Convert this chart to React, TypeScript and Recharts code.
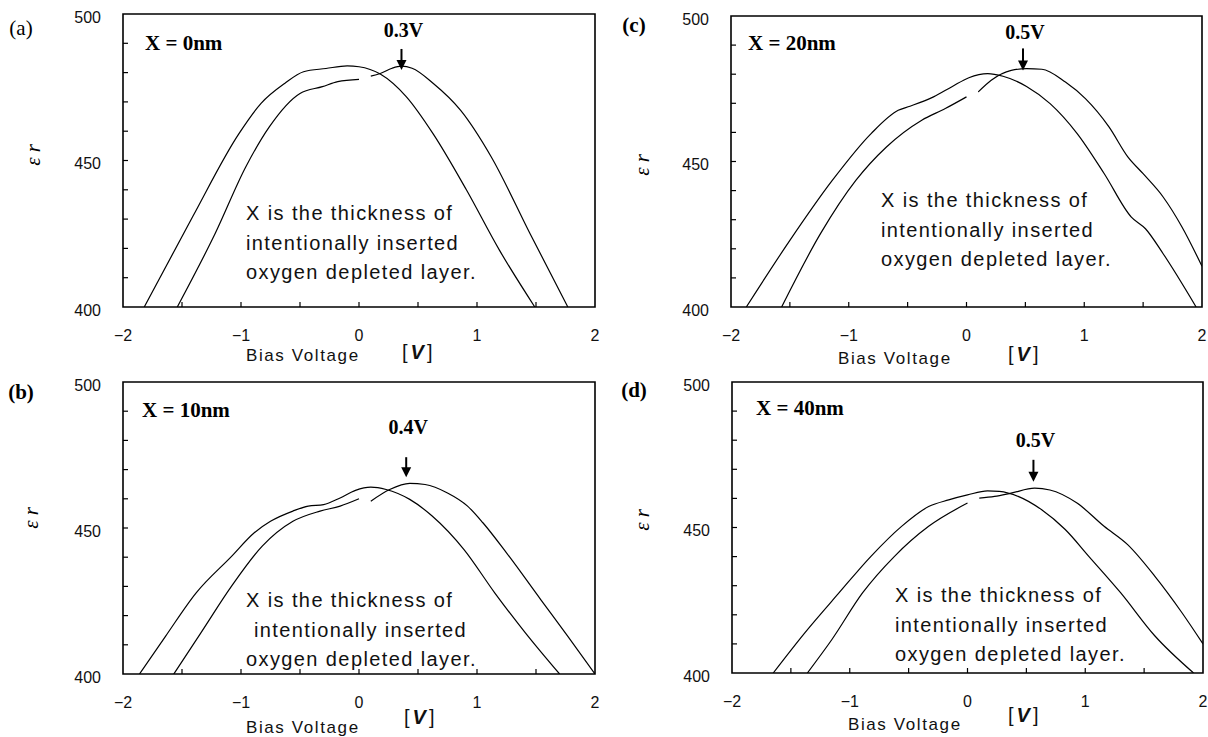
import React from 'react';
import { LineChart, Line, XAxis, YAxis, ReferenceArea, ReferenceDot } from 'recharts';

type Pt = [number, number];

const xTicks = [-2, -1.5, -1, -0.5, 0, 0.5, 1, 1.5, 2];
const yTicks = [400, 410, 420, 430, 440, 450, 460, 470, 480, 490, 500];

// (a) X = 0nm
const aLeftPeak: Pt[] = [
    [-1.82, 400], [-1.41, 430.8], [-1.02, 459], [-0.83, 469.5], [-0.63, 476.3], [-0.47, 480.3],
    [-0.28, 481.4], [-0.1, 482.3], [0, 482], [0.18, 479.5], [0.4, 471.8], [0.63, 459],
    [0.91, 440], [1.19, 419.4], [1.49, 400],
];
const aRightPeakNeg: Pt[] = [
    [-1.54, 400], [-1.22, 425], [-0.96, 447.8], [-0.76, 461.5], [-0.5, 472.9], [-0.31, 475.2],
    [-0.18, 476.9], [0, 477.7],
];
const aRightPeakPos: Pt[] = [
    [0.1, 478.8], [0.18, 479.7], [0.28, 481.5], [0.36, 482.2], [0.45, 481.5], [0.63, 476.3],
    [0.86, 467.2], [1.12, 451.3], [1.45, 425], [1.77, 400],
];

// (b) X = 10nm
const bLeftPeak: Pt[] = [
    [-1.86, 400], [-1.64, 412.9], [-1.38, 427.8], [-1.08, 440.3], [-0.89, 448.3], [-0.75, 452.3],
    [-0.56, 455.8], [-0.43, 457.5], [-0.3, 458], [-0.16, 460.3], [-0.03, 462.9], [0.1, 464],
    [0.23, 463.2], [0.43, 459.8], [0.62, 454.1], [0.89, 442.6], [1.15, 427.8], [1.41, 414.1],
    [1.7, 400],
];
const bRightPeakNeg: Pt[] = [
    [-1.57, 400], [-1.34, 414.1], [-1.08, 430.1], [-0.82, 443.8], [-0.56, 452.3], [-0.33, 455.8],
    [-0.16, 457.5], [0, 460],
];
const bRightPeakPos: Pt[] = [
    [0.1, 459.2], [0.26, 463.2], [0.43, 465.3], [0.56, 464.9], [0.75, 462], [0.92, 457.5],
    [1.05, 451.8], [1.25, 441.5], [1.54, 425.5], [1.77, 412.9], [2, 400],
];

// (c) X = 20nm
const cLeftPeak: Pt[] = [
    [-1.87, 400], [-1.5, 422.9], [-1.14, 443.5], [-0.81, 459.6], [-0.58, 467.6], [-0.48, 469],
    [-0.28, 472.2], [-0.12, 475.8], [0.02, 478.8], [0.18, 480.2], [0.31, 479.3], [0.51, 475.8],
    [0.71, 469.9], [0.94, 459.6], [1.17, 445.8], [1.4, 430.9], [1.52, 426.9], [1.67, 418.3],
    [1.95, 400],
];
const cRightPeakNeg: Pt[] = [
    [-1.57, 400], [-1.24, 425.2], [-0.94, 443.5], [-0.68, 455], [-0.38, 464.2], [-0.18, 468.2],
    [0, 472.2],
];
const cRightPeakPos: Pt[] = [
    [0.1, 473.9], [0.21, 477.9], [0.38, 481.3], [0.51, 481.9], [0.64, 481.7], [0.84, 477.3],
    [1.01, 471.6], [1.21, 461.9], [1.37, 451.6], [1.5, 445.8], [1.67, 437.8], [1.83, 427.5],
    [2, 414],
];

// (d) X = 40nm
const dLeftPeak: Pt[] = [
    [-1.65, 400], [-1.38, 413.9], [-1.09, 427.6], [-0.82, 440.1], [-0.56, 450.4], [-0.33, 457.2],
    [-0.16, 459.5], [0, 461.2], [0.17, 462.6], [0.27, 462.4], [0.43, 460.7], [0.63, 456.1],
    [0.83, 449.3], [1.03, 440.1], [1.3, 427.6], [1.59, 412.8], [1.92, 400],
];
const dRightPeakNeg: Pt[] = [
    [-1.36, 400], [-1.15, 411.6], [-0.89, 427.6], [-0.62, 440.1], [-0.33, 450.4], [0, 458.4],
];
const dRightPeakPos: Pt[] = [
    [0.1, 460.1], [0.23, 460.7], [0.37, 461.8], [0.57, 463.5], [0.7, 462.9], [0.93, 458.4],
    [1.16, 450.4], [1.36, 444.1], [1.59, 433.3], [1.82, 420.8], [2, 410],
];

// peak markers: bias where the arrow points, and the permittivity at the arrow tip
const peakLabels = ['0.3V', '0.4V', '0.5V', '0.5V'];
const peakBias = [0.36, 0.4, 0.48, 0.56];
const peakTip = [480.9, 467.4, 481.3, 465.7];

const thicknessLabels = ['X = 0nm', 'X = 10nm', 'X = 20nm', 'X = 40nm'];
const noteLines = ['X is the thickness of', 'intentionally inserted', 'oxygen depleted layer.'];

const W = 604;
const H = 368;
const Y_AXIS_W = 60;
const X_AXIS_H = 50;

const SANS = '"Liberation Sans", Arial, sans-serif';
const SERIF = '"Liberation Serif", "Times New Roman", serif';

const toRows = (pts: Pt[]) => pts.map(([v, er]) => ({ v, er }));
const fmt = (v: number) => (v < 0 ? `\u2212${Math.abs(v)}` : `${v}`);

interface PanelProps {
    left: number;
    top: number;
    plot: { l: number; t: number; r: number; b: number };
    letter: string;
    letterBold: boolean;
    letterAt: [number, number];
    epsAt: [number, number];
    biasAt: [number, number];
    unitAt: [number, number];
    curves: Pt[][];
    idx: number;
    labelAt: [number, number];
    noteAt: [number, number];
    noteIndent: number[];
    peakGap: number;
    arrowLen: number;
}

const Panel: React.FC<PanelProps> = (p) => {
    const { plot } = p;

    const xTick = (props: any) => {
        const { x, payload } = props;
        const v = payload.value as number;
        return (
            <g>
                {Number.isInteger(v) && (
                    <text x={x} y={plot.b + 28} textAnchor="middle" dominantBaseline="central"
                        fontFamily={SANS} fontSize={16} fill="#111">
                        {fmt(v)}
                    </text>
                )}
            </g>
        );
    };

    const yTick = (props: any) => {
        const { y, payload } = props;
        const v = payload.value as number;
        return (
            <g>
                {v % 50 === 0 && (
                    <text x={plot.l - 22} y={y + 3} textAnchor="end" dominantBaseline="central"
                        fontFamily={SANS} fontSize={16} fill="#111">
                        {v}
                    </text>
                )}
            </g>
        );
    };

    // inward tick marks drawn at data positions, so they sit on top of the frame
    const xMark = (props: any) => {
        const { cx } = props;
        return <line x1={cx} x2={cx} y1={plot.b} y2={plot.b - 5} stroke="#000" strokeWidth={1.2} />;
    };
    const yMark = (props: any) => {
        const { cy } = props;
        return <line x1={plot.l} x2={plot.l + 5} y1={cy} y2={cy} stroke="#000" strokeWidth={1.2} />;
    };

    const arrow = (props: any) => {
        const { cx, cy } = props;
        return (
            <g>
                <line x1={cx} x2={cx} y1={cy - p.arrowLen} y2={cy - 8} stroke="#000" strokeWidth={2} />
                <path d={`M${cx - 5},${cy - 10} L${cx + 5},${cy - 10} L${cx},${cy} Z`} fill="#000" />
                <text x={cx + 2} y={cy - p.peakGap} textAnchor="middle" dominantBaseline="central"
                    fontFamily={SERIF} fontWeight="bold" fontSize={20} fill="#000">
                    {peakLabels[p.idx]}
                </text>
            </g>
        );
    };

    return (
        <div style={{ position: 'absolute', left: p.left, top: p.top, width: W, height: H }}>
            <LineChart
                width={W}
                height={H}
                margin={{ top: plot.t, right: W - plot.r, bottom: H - plot.b - X_AXIS_H, left: plot.l - Y_AXIS_W }}
            >
                <XAxis
                    type="number"
                    dataKey="v"
                    domain={[-2, 2]}
                    ticks={xTicks}
                    interval={0}
                    allowDataOverflow
                    axisLine={false}
                    tickLine={false}
                    tick={xTick}
                    height={X_AXIS_H}
                />
                <YAxis
                    type="number"
                    domain={[400, 500]}
                    ticks={yTicks}
                    interval={0}
                    allowDataOverflow
                    axisLine={false}
                    tickLine={false}
                    tick={yTick}
                    width={Y_AXIS_W}
                />
                <ReferenceArea x1={-2} x2={2} y1={400} y2={500} fill="none" stroke="#000" strokeWidth={1.6} />
                {xTicks.slice(1, -1).map((t) => (
                    <ReferenceDot key={`x${t}`} x={t} y={400} shape={xMark} />
                ))}
                {yTicks.slice(1, -1).map((t) => (
                    <ReferenceDot key={`y${t}`} x={-2} y={t} shape={yMark} />
                ))}
                {p.curves.map((c, i) => (
                    <Line
                        key={i}
                        data={toRows(c)}
                        dataKey="er"
                        type="monotone"
                        stroke="#000"
                        strokeWidth={1.2}
                        dot={false}
                        activeDot={false}
                        isAnimationActive={false}
                    />
                ))}
                <ReferenceDot x={peakBias[p.idx]} y={peakTip[p.idx]} shape={arrow} />
            </LineChart>

            <svg width={W} height={H} style={{ position: 'absolute', left: 0, top: 0, pointerEvents: 'none' }}>
                <text x={p.letterAt[0]} y={p.letterAt[1]} textAnchor="middle" dominantBaseline="central"
                    fontFamily={SERIF} fontSize={21} fontWeight={p.letterBold ? 'bold' : 'normal'} fill="#000">
                    {p.letter}
                </text>
                <text
                    x={p.epsAt[0]} y={p.epsAt[1]}
                    transform={`rotate(-90 ${p.epsAt[0]} ${p.epsAt[1]})`}
                    textAnchor="middle" dominantBaseline="central"
                    fontFamily={SERIF} fontStyle="italic" fontSize={21} fill="#000"
                >
                    ε r
                </text>
                <text x={p.biasAt[0]} y={p.biasAt[1] + 2} dominantBaseline="central"
                    fontFamily={SANS} fontSize={17} letterSpacing={1.6} fill="#111">
                    Bias Voltage
                </text>
                <text x={p.unitAt[0]} y={p.unitAt[1]} dominantBaseline="central"
                    fontFamily={SANS} fontSize={20} fill="#111">
                    [<tspan dx={3} fontWeight="bold" fontStyle="italic">V</tspan><tspan dx={3}>]</tspan>
                </text>
                <text x={p.labelAt[0]} y={p.labelAt[1]} dominantBaseline="central"
                    fontFamily={SERIF} fontWeight="bold" fontSize={21} fill="#000">
                    {thicknessLabels[p.idx]}
                </text>
                {noteLines.map((line, i) => (
                    <text key={i} x={p.noteAt[0] + p.noteIndent[i]} y={p.noteAt[1] + i * 29.5}
                        dominantBaseline="central" fontFamily={SANS} fontSize={20} letterSpacing={1.4} fill="#111">
                        {line}
                    </text>
                ))}
            </svg>
        </div>
    );
};

export default function App() {
    return (
        <div style={{ position: 'absolute', left: 0, top: 0, width: 1208, height: 737, background: '#fff' }}>
            <Panel
                left={0} top={0} idx={0}
                plot={{ l: 123, t: 14, r: 595, b: 307 }}
                letter="(a)" letterBold={false} letterAt={[21, 28]}
                epsAt={[33, 155]} biasAt={[246, 353]} unitAt={[402, 352]}
                curves={[aLeftPeak, aRightPeakNeg, aRightPeakPos]}
                labelAt={[145, 43]} noteAt={[246, 213]} noteIndent={[0, 0, 0]}
                peakGap={40} arrowLen={21}
            />
            <Panel
                left={604} top={0} idx={2}
                plot={{ l: 127, t: 16, r: 598, b: 307 }}
                letter="(c)" letterBold letterAt={[30, 25]}
                epsAt={[38, 165]} biasAt={[234, 356]} unitAt={[404, 354]}
                curves={[cLeftPeak, cRightPeakNeg, cRightPeakPos]}
                labelAt={[144, 43]} noteAt={[277, 200]} noteIndent={[0, 0, 0]}
                peakGap={38} arrowLen={22}
            />
            <Panel
                left={0} top={368} idx={1}
                plot={{ l: 123, t: 14, r: 595, b: 306 }}
                letter="(b)" letterBold letterAt={[21, 24]}
                epsAt={[31, 150]} biasAt={[246, 357]} unitAt={[404, 349]}
                curves={[bLeftPeak, bRightPeakNeg, bRightPeakPos]}
                labelAt={[142, 42]} noteAt={[246, 232]} noteIndent={[0, 8, 0]}
                peakGap={50} arrowLen={20}
            />
            <Panel
                left={604} top={368} idx={3}
                plot={{ l: 128, t: 14, r: 599, b: 305 }}
                letter="(d)" letterBold letterAt={[30, 22]}
                epsAt={[38, 152]} biasAt={[244, 354]} unitAt={[404, 347]}
                curves={[dLeftPeak, dRightPeakNeg, dRightPeakPos]}
                labelAt={[152, 40]} noteAt={[291, 227]} noteIndent={[0, 0, 0]}
                peakGap={42} arrowLen={22}
            />
        </div>
    );
}
